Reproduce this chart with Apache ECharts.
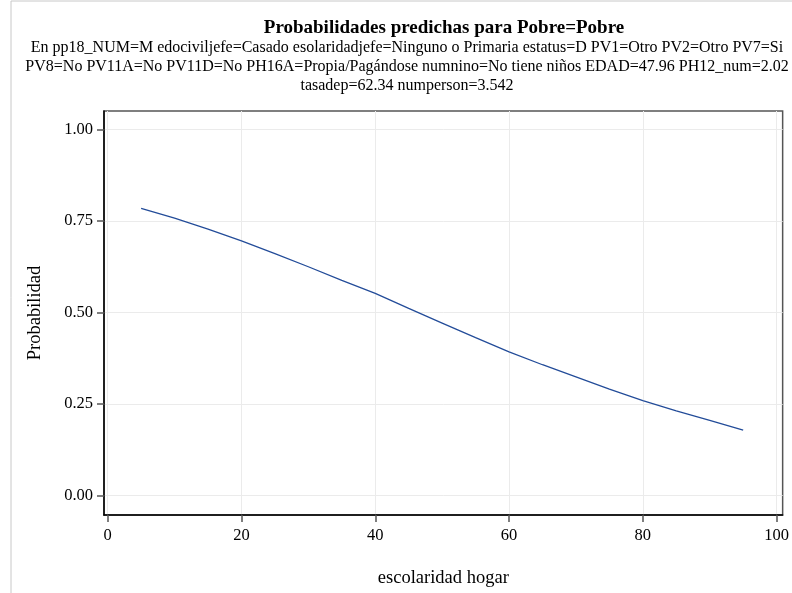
<!DOCTYPE html>
<html>
<head>
<meta charset="utf-8">
<script src="https://cdn.jsdelivr.net/npm/echarts@6/dist/echarts.min.js"></script>
<style>html,body{margin:0;padding:0;background:#fff;overflow:hidden}#c{width:792px;height:593px}</style>
</head>
<body>
<div id="c"></div>
<script>
const titleText = 'Probabilidades predichas para Pobre=Pobre';
const subtitleLines = [
  'En pp18_NUM=M edociviljefe=Casado esolaridadjefe=Ninguno o Primaria estatus=D PV1=Otro PV2=Otro PV7=Si',
  'PV8=No PV11A=No PV11D=No PH16A=Propia/Pagándose numnino=No tiene niños EDAD=47.96 PH12_num=2.02',
  'tasadep=62.34 numperson=3.542'
];
const xName = 'escolaridad hogar';
const yName = 'Probabilidad';
const xTicks = [0, 20, 40, 60, 80, 100];
const yTicks = [0, 0.25, 0.5, 0.75, 1];
const escolaridad = [5, 10, 15, 20, 25, 30, 35, 40, 45, 50, 55, 60, 65, 70, 75, 80, 85, 90, 95];
const probabilidad = [0.785, 0.758, 0.728, 0.696, 0.661, 0.625, 0.588, 0.552, 0.511, 0.471, 0.431, 0.392, 0.357, 0.324, 0.290, 0.259, 0.231, 0.205, 0.178];

const font = 'Liberation Serif';
const chart = echarts.init(document.getElementById('c'), null, {renderer: 'canvas'});
chart.setOption({
  animation: false,
  backgroundColor: '#fff',
  title: [
    {text: titleText, left: 444, top: 19, textAlign: 'center', padding: 0,
     textStyle: {fontFamily: font, fontWeight: 'bold', fontSize: 19, color: '#000'}},
    {text: subtitleLines.join('\n'), left: 407, top: 38, textAlign: 'center', padding: 0,
     textStyle: {fontFamily: font, fontWeight: 'normal', fontSize: 16, lineHeight: 19, color: '#000'}}
  ],
  graphic: [
    {type: 'rect', shape: {x: 11, y: 1, width: 800, height: 600}, silent: true, z: -1,
     style: {fill: 'none', stroke: '#c8c8c8', lineWidth: 1}}
  ],
  grid: {left: 104, top: 111, right: 8, bottom: 70, show: true, borderColor: '#555', borderWidth: 1.5},
  xAxis: {
    type: 'value', min: -0.55, max: 100.9,
    name: xName, nameLocation: 'middle', nameGap: 54,
    nameTextStyle: {fontFamily: font, fontSize: 18.5, color: '#000'},
    axisLine: {show: true, onZero: false, lineStyle: {color: '#000', width: 1.5}},
    axisTick: {show: true, length: 7, customValues: xTicks, lineStyle: {color: '#555', width: 1.5}},
    axisLabel: {customValues: xTicks, margin: 12, fontFamily: font, fontSize: 16.5, color: '#000'},
    splitLine: {show: true, lineStyle: {color: '#ebebeb', width: 1}}
  },
  yAxis: {
    type: 'value', min: -0.054, max: 1.051,
    name: yName, nameLocation: 'middle', nameGap: 59,
    nameTextStyle: {fontFamily: font, fontSize: 18.5, color: '#000'},
    axisLine: {show: true, onZero: false, lineStyle: {color: '#000', width: 1.5}},
    axisTick: {show: true, length: 7, customValues: yTicks, lineStyle: {color: '#555', width: 1.5}},
    axisLabel: {customValues: yTicks, margin: 11, fontFamily: font, fontSize: 16.5, color: '#000',
      formatter: v => v.toFixed(2)},
    splitLine: {show: true, lineStyle: {color: '#ebebeb', width: 1}}
  },
  series: [{
    type: 'line', data: escolaridad.map((x, i) => [x, probabilidad[i]]),
    showSymbol: false, symbol: 'none',
    lineStyle: {color: '#234c99', width: 1.3}
  }]
});
</script>
</body>
</html>
